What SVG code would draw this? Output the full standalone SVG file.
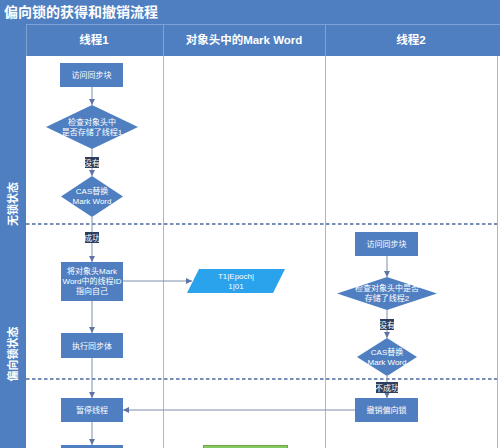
<svg xmlns="http://www.w3.org/2000/svg" width="500" height="448" viewBox="0 0 500 448">
<style>
text{font-family:"Liberation Sans","Noto Sans CJK SC",sans-serif;fill:#fff}
.n{fill:#4f7fc1}
.t{font-size:8px;text-anchor:middle}
.h{font-size:11.5px;font-weight:bold;text-anchor:middle}
.c{stroke:#7d8fae;stroke-width:1;fill:none}
.lab{fill:#2c3e5c}
.lane{stroke:#a9b6cc;stroke-width:1}
.dash{stroke:#4d6a9c;stroke-width:1.6;stroke-dasharray:3.5 2.5}
</style>
<defs>
<marker id="ah" viewBox="0 0 6 6" refX="6" refY="3" markerWidth="6" markerHeight="6" orient="auto" markerUnits="userSpaceOnUse">
<path d="M0,0 L6,3 L0,6 z" fill="#5d74a4"/>
</marker>
</defs>
<g id="frame">
<rect x="0" y="0" width="500" height="448" fill="#ffffff"/>
<rect x="0" y="0" width="500" height="56" fill="#4f7fc1"/>
<rect x="0" y="0" width="26" height="448" fill="#4f7fc1"/>
<line x1="26" y1="24.5" x2="500" y2="24.5" stroke="#7ea2d6" stroke-width="1"/>
<line x1="26.5" y1="24" x2="26.5" y2="56" stroke="#7ea2d6" stroke-width="1"/>
<line x1="163.5" y1="24" x2="163.5" y2="56" stroke="#7ea2d6" stroke-width="1"/>
<line x1="325.5" y1="24" x2="325.5" y2="56" stroke="#7ea2d6" stroke-width="1"/>
<text x="4" y="17" style="font-size:14px;font-weight:bold">偏向锁的获得和撤销流程</text>
<text class="h" x="94" y="44">线程1</text>
<text class="h" x="244" y="44">对象头中的Mark Word</text>
<text class="h" x="411" y="44">线程2</text>
<line class="lane" x1="163.5" y1="56" x2="163.5" y2="448"/>
<line class="lane" x1="325.5" y1="56" x2="325.5" y2="448"/>
<line class="lane" x1="497.5" y1="56" x2="497.5" y2="448"/>
<line class="dash" x1="26" y1="224" x2="497" y2="224"/>
<line class="dash" x1="26" y1="379" x2="497" y2="379"/>
<text transform="translate(17,204) rotate(-90)" style="font-size:11px;font-weight:bold;text-anchor:middle">无锁状态</text>
<text transform="translate(17,354) rotate(-90)" style="font-size:11px;font-weight:bold;text-anchor:middle">偏向锁状态</text>
</g>
<g id="connectors">
<line class="c" x1="92" y1="87" x2="92" y2="105" marker-end="url(#ah)"/>
<line class="c" x1="92" y1="149" x2="92" y2="176" marker-end="url(#ah)"/>
<line class="c" x1="92" y1="217" x2="92" y2="262" marker-end="url(#ah)"/>
<line class="c" x1="123" y1="281" x2="192" y2="281" marker-end="url(#ah)"/>
<line class="c" x1="92" y1="301" x2="92" y2="333" marker-end="url(#ah)"/>
<line class="c" x1="92" y1="358" x2="92" y2="398" marker-end="url(#ah)"/>
<line class="c" x1="92" y1="422" x2="92" y2="445" marker-end="url(#ah)"/>
<line class="c" x1="387" y1="256" x2="387" y2="277" marker-end="url(#ah)"/>
<line class="c" x1="387" y1="310" x2="387" y2="338" marker-end="url(#ah)"/>
<line class="c" x1="387" y1="376" x2="387" y2="398" marker-end="url(#ah)"/>
<line class="c" x1="355" y1="410" x2="123" y2="410" marker-end="url(#ah)"/>
</g>
<g id="labels">
<rect class="lab" x="85" y="157" width="14" height="11"/>
<text class="t" x="92" y="165.5">没有</text>
<rect class="lab" x="85" y="232" width="14" height="11"/>
<text class="t" x="92" y="240.5">成功</text>
<rect class="lab" x="380" y="319" width="14" height="11"/>
<text class="t" x="387" y="327.5">没有</text>
<rect class="lab" x="376" y="382" width="22" height="11"/>
<text class="t" x="387" y="390.5">不成功</text>
</g>
<g id="n1">
<rect class="n" x="60" y="63" width="63" height="24"/>
<text class="t" x="91.5" y="78">访问同步块</text>
</g>
<g id="n2">
<polygon class="n" points="92,105 138,127 92,149 46,127"/>
<text class="t" x="92" y="125">检查对象头中</text>
<text class="t" x="92" y="135">是否存储了线程1</text>
</g>
<g id="n3">
<polygon class="n" points="92,176 123,196.5 92,217 61,196.5"/>
<text class="t" x="92" y="194">CAS替换</text>
<text class="t" x="92" y="204">Mark Word</text>
</g>
<g id="n4">
<rect class="n" x="61" y="262" width="62" height="39"/>
<text class="t" x="92" y="274">将对象头Mark</text>
<text class="t" x="92" y="284">Word中的线程ID</text>
<text class="t" x="92" y="294">指向自己</text>
</g>
<g id="n5">
<rect class="n" x="61" y="333" width="62" height="25"/>
<text class="t" x="92" y="348.5">执行同步体</text>
</g>
<g id="n6">
<rect class="n" x="61" y="398" width="62" height="24"/>
<text class="t" x="92" y="413">暂停线程</text>
</g>
<g id="n7">
<rect class="n" x="61" y="445" width="62" height="10"/>
</g>
<g id="n8">
<polygon points="199,269 285,269 273,293 187,293" fill="#2aa2ec"/>
<text class="t" x="236" y="279">T1|Epoch|</text>
<text class="t" x="236" y="289">1|01</text>
</g>
<g id="n9">
<rect x="203.5" y="445.5" width="84" height="10" fill="#86c95f" stroke="#6aa84a" stroke-width="1"/>
</g>
<g id="n10">
<rect class="n" x="355" y="232" width="63" height="24"/>
<text class="t" x="386.5" y="247">访问同步块</text>
</g>
<g id="n11">
<polygon class="n" points="387,277 437,293.5 387,310 337,293.5"/>
<text class="t" x="387" y="291">检查对象头中是否</text>
<text class="t" x="387" y="301">存储了线程2</text>
</g>
<g id="n12">
<polygon class="n" points="387,338 417,357 387,376 357,357"/>
<text class="t" x="387" y="355">CAS替换</text>
<text class="t" x="387" y="365">Mark Word</text>
</g>
<g id="n13">
<rect class="n" x="355" y="398" width="63" height="24"/>
<text class="t" x="386.5" y="413">撤销偏向锁</text>
</g>
</svg>
